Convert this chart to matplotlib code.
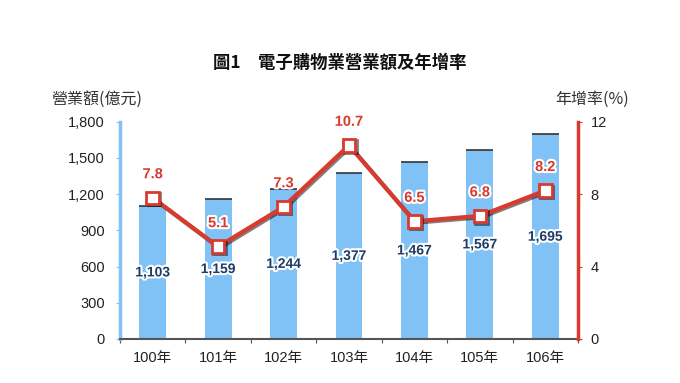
import matplotlib.pyplot as plt
import matplotlib.patheffects as pe
import numpy as np

plt.rcParams['font.family'] = ['Liberation Sans', 'Noto Sans CJK TC', 'DejaVu Sans']

years = ['100年', '101年', '102年', '103年', '104年', '105年', '106年']
revenue = [1103, 1159, 1244, 1377, 1467, 1567, 1695]
growth = [7.8, 5.1, 7.3, 10.7, 6.5, 6.8, 8.2]

bar_color = '#80c1f6'
red = '#d93a2e'
navy = '#1e3d66'

fig = plt.figure(figsize=(6.8, 3.83), dpi=100)
ax = fig.add_axes([0.1765, 0.115, 0.6735, 0.567])
ax2 = ax.twinx()

x = np.arange(len(years))
ax.bar(x, revenue, width=0.41, color=bar_color, zorder=2)
# dark top edge on each bar
ax.hlines(revenue, x - 0.205, x + 0.205, color='#333333', lw=1.2, zorder=3)

glow = [pe.withStroke(linewidth=3, foreground='white')]
for xi, v in zip(x, revenue):
    ax.text(xi, v * 0.5, f'{v:,}', ha='center', va='center', fontsize=10,
            fontweight='bold', color=navy, path_effects=glow, zorder=5)

ax.set_xlim(-0.5, len(years) - 0.5)
ax.set_ylim(0, 1800)
ax.set_yticks(range(0, 1801, 300))
ax.set_yticklabels([f'{t:,}' for t in range(0, 1801, 300)])
ax.set_xticks(np.arange(-0.5, len(years), 1))
ax.set_xticklabels([])
ax.set_xticks(x, minor=True)
ax.set_xticklabels(years, minor=True)
ax.tick_params(axis='x', which='major', length=3, color='#555555')
ax.tick_params(axis='x', which='minor', length=0, pad=9, labelsize=10.5, labelcolor='#222222')
ax.tick_params(axis='y', length=3, color=bar_color, labelsize=10.5, labelcolor='#222222', pad=8)

for s in ['top', 'right']:
    ax.spines[s].set_visible(False)
ax.spines['left'].set_color(bar_color)
ax.spines['left'].set_linewidth(2.5)
ax.spines['bottom'].set_color('#555555')
ax.spines['bottom'].set_linewidth(1.5)

ax2.plot(x, growth, color=red, lw=3, marker='s', markersize=9,
         markerfacecolor='white', markeredgecolor=red, markeredgewidth=2, zorder=4,
         path_effects=[pe.SimpleLineShadow(offset=(1, -1), alpha=0.5), pe.Normal()])
for xi, g in zip(x, growth):
    ax2.text(xi, g + 1.3, f'{g:.1f}', ha='center', va='center', fontsize=10.5,
             fontweight='bold', color=red, path_effects=glow, zorder=5)
ax2.set_ylim(0, 12)
ax2.set_yticks([0, 4, 8, 12])
ax2.tick_params(axis='y', length=3, color=red, labelsize=10.5, labelcolor='#222222', pad=6)
for s in ['top', 'left', 'bottom']:
    ax2.spines[s].set_visible(False)
ax2.spines['right'].set_color(red)
ax2.spines['right'].set_linewidth(2.5)

fig.text(0.5, 0.835, '圖1　電子購物業營業額及年增率', ha='center', va='center',
         fontsize=12.5, fontweight='bold', family=['Noto Sans CJK TC'], color='#111111')
fig.text(0.143, 0.74, '營業額(億元)', ha='center', va='center', fontsize=11.5,
         family=['Noto Sans CJK TC', 'Liberation Sans'], color='#333333')
fig.text(0.87, 0.74, '年增率(%)', ha='center', va='center', fontsize=11.5,
         family=['Noto Sans CJK TC', 'Liberation Sans'], color='#333333')

fig.savefig('out.png', dpi=100)
